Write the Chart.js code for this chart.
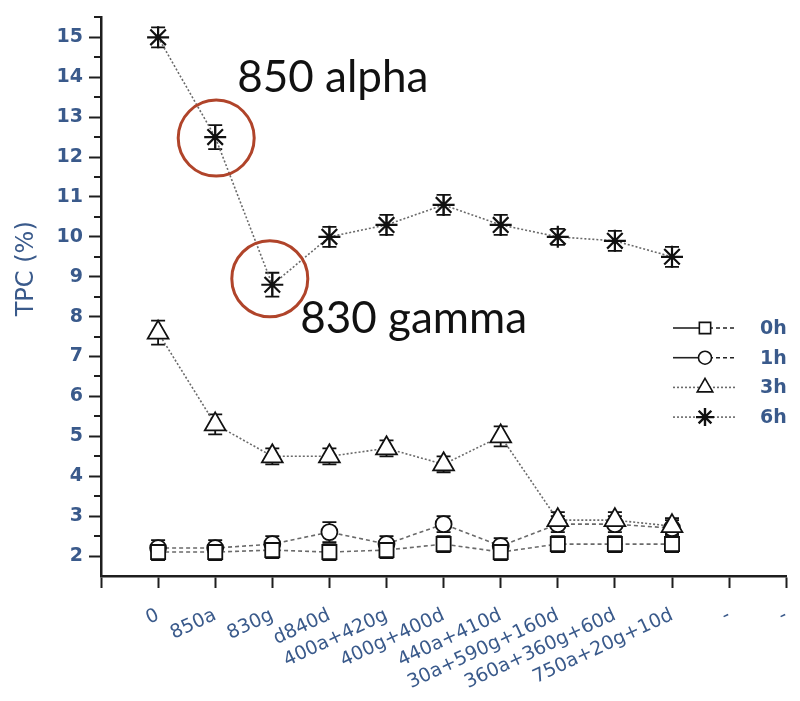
<!DOCTYPE html>
<html>
<head>
<meta charset="utf-8">
<script src="https://cdn.jsdelivr.net/npm/chart.js@4.4.1/dist/chart.umd.min.js"></script>
<style>
  html, body { margin: 0; padding: 0; background: #ffffff; }
  #wrap { width: 800px; height: 701px; position: relative; }
</style>
</head>
<body>
<div id="wrap"><canvas id="tpc" width="800" height="701"></canvas></div>
<script>
// Treatments on the x axis (index 0..11); the axis itself starts one step before "0".
const categories = ['0', '850a', '830g', 'd840d', '400a+420g', '400g+400d', '440a+410d',
                    '30a+590g+160d', '360a+360g+60d', '750a+20g+10d', '-', '-'];
const seriesNames = ['0h', '1h', '3h', '6h'];
const yTickValues = [2, 3, 4, 5, 6, 7, 8, 9, 10, 11, 12, 13, 14, 15];

// Total phenolic content (%) per treatment, one array per sampling time
const tpc0h = [2.1, 2.1, 2.15, 2.1, 2.15, 2.3, 2.1, 2.3, 2.3, 2.3];
const tpc1h = [2.2, 2.2, 2.3, 2.6, 2.3, 2.8, 2.25, 2.8, 2.8, 2.7];
const tpc3h = [7.6, 5.3, 4.5, 4.5, 4.7, 4.3, 5.0, 2.9, 2.9, 2.75];
const tpc6h = [15.0, 12.5, 8.8, 10.0, 10.3, 10.8, 10.3, 10.0, 9.9, 9.5];

// Standard deviations (error bars)
const err0h = [0.2, 0.2, 0.2, 0.2, 0.2, 0.2, 0.2, 0.2, 0.2, 0.2];
const err1h = [0.2, 0.2, 0.2, 0.25, 0.2, 0.2, 0.2, 0.2, 0.2, 0.2];
const err3h = [0.3, 0.25, 0.2, 0.2, 0.2, 0.2, 0.25, 0.2, 0.2, 0.2];
const err6h = [0.25, 0.3, 0.3, 0.25, 0.25, 0.25, 0.25, 0.2, 0.25, 0.25];

// Highlighted points on the 6h curve
const notes = [
  { text: '850 alpha', index: 1 },
  { text: '830 gamma', index: 2 }
];

const INK = '#3a5a8b';
const AXIS = '#1e1e1e';
const LINE = '#6a6a6a';

const seriesValues = [tpc0h, tpc1h, tpc3h, tpc6h];
const seriesErrors = [err0h, err1h, err3h, err6h];

const markerStyles = [
  { pointStyle: 'rect',     radius: 10, legendRadius: 8,   dash: [4, 3], order: 1, solidLead: true },
  { pointStyle: 'circle',   radius: 8,  legendRadius: 6.5, dash: [4, 3], order: 3, solidLead: true },
  { pointStyle: 'triangle', radius: 12, legendRadius: 9,   dash: [2, 2], order: 2, solidLead: false },
  { pointStyle: 'star',     radius: 11, legendRadius: 9,   dash: [2, 2], order: 4, solidLead: false }
];

const toPoints = values => values.map((v, i) => ({ x: i, y: v }));

const datasets = seriesNames.map((name, i) => ({
  label: name,
  data: toPoints(seriesValues[i]),
  order: markerStyles[i].order,
  borderColor: LINE,
  borderWidth: 1.6,
  borderDash: markerStyles[i].dash,
  fill: false,
  tension: 0,
  pointStyle: markerStyles[i].pointStyle,
  pointRadius: markerStyles[i].radius,
  pointHoverRadius: markerStyles[i].radius,
  pointBorderColor: '#111',
  pointBackgroundColor: '#ffffff',
  pointBorderWidth: i === 3 ? 2.2 : 1.8
}));

// Error bars with caps, drawn under the markers
const errorBars = {
  id: 'errorBars',
  beforeDatasetsDraw(chart) {
    const { ctx, scales: { x, y } } = chart;
    ctx.save();
    ctx.strokeStyle = '#111';
    ctx.lineWidth = 1.8;
    seriesValues.forEach((vals, s) => {
      vals.forEach((v, j) => {
        const e = seriesErrors[s][j];
        const px = x.getPixelForValue(j);
        const top = y.getPixelForValue(v + e);
        const bot = y.getPixelForValue(v - e);
        const cap = 7;
        ctx.beginPath();
        ctx.moveTo(px, top); ctx.lineTo(px, bot);
        ctx.moveTo(px - cap, top); ctx.lineTo(px + cap, top);
        ctx.moveTo(px - cap, bot); ctx.lineTo(px + cap, bot);
        ctx.stroke();
      });
    });
    ctx.restore();
  }
};

// Half-unit minor ticks on the value axis and the axis title
const axisExtras = {
  id: 'axisExtras',
  afterDraw(chart) {
    const { ctx, chartArea, scales: { y } } = chart;
    ctx.save();
    ctx.strokeStyle = AXIS;
    ctx.lineWidth = 2;
    for (let v = 2.5; v <= 15.5; v += 1) {
      const py = Math.round(y.getPixelForValue(v));
      ctx.beginPath();
      ctx.moveTo(chartArea.left - 7, py);
      ctx.lineTo(chartArea.left, py);
      ctx.stroke();
    }
    ctx.translate(27, chartArea.top + (chartArea.bottom - chartArea.top) * 0.45);
    ctx.rotate(-Math.PI / 2);
    ctx.fillStyle = INK;
    ctx.font = '24px "DejaVu Sans"';
    ctx.textAlign = 'center';
    ctx.textBaseline = 'middle';
    ctx.fillText('TPC (%)', 0, 0);
    ctx.restore();
  }
};

function drawMarker(ctx, style, radius, cx, cy, borderWidth) {
  const h = Chart.helpers;
  ctx.fillStyle = '#ffffff';
  ctx.strokeStyle = '#111';
  ctx.lineWidth = borderWidth;
  if (h && h.drawPoint) {
    h.drawPoint(ctx, { pointStyle: style, radius: radius, rotation: 0, borderWidth: borderWidth }, cx, cy);
  }
}

// Legend: line segment with marker, then the series name
const lineLegend = {
  id: 'lineLegend',
  afterDraw(chart) {
    const { ctx } = chart;
    const x0 = 673, x1 = 737, xm = 705, xt = 760, y0 = 328, step = 29.7;
    ctx.save();
    seriesNames.forEach((name, i) => {
      const yy = y0 + i * step;
      const st = markerStyles[i];
      ctx.lineWidth = 1.6;
      if (st.solidLead) {
        ctx.strokeStyle = '#222';
        ctx.setLineDash([]);
        ctx.beginPath();
        ctx.moveTo(x0, yy); ctx.lineTo(xm - 4, yy);
        ctx.stroke();
        ctx.setLineDash(st.dash);
        ctx.beginPath();
        ctx.moveTo(xm + 4, yy); ctx.lineTo(x1, yy);
        ctx.stroke();
      } else {
        ctx.strokeStyle = LINE;
        ctx.setLineDash(st.dash);
        ctx.beginPath();
        ctx.moveTo(x0, yy); ctx.lineTo(x1, yy);
        ctx.stroke();
      }
      ctx.setLineDash([]);
      drawMarker(ctx, st.pointStyle, st.legendRadius, xm, yy, i === 3 ? 2.4 : 1.6);
      ctx.fillStyle = INK;
      ctx.font = 'bold 19px "DejaVu Sans"';
      ctx.textAlign = 'left';
      ctx.textBaseline = 'middle';
      ctx.fillText(name, xt, yy + 1);
    });
    ctx.restore();
  }
};

// Red rings and captions on the 850a and 830g points of the 6h curve
const highlights = {
  id: 'highlights',
  afterDatasetsDraw(chart) {
    const { ctx } = chart;
    const meta = chart.getDatasetMeta(3);
    const a = meta.data[notes[0].index];
    const b = meta.data[notes[1].index];
    ctx.save();
    ctx.strokeStyle = '#b0442a';
    ctx.lineWidth = 3;
    ctx.beginPath();
    ctx.arc(a.x + 1, a.y + 1, 38, 0, Math.PI * 2);
    ctx.stroke();
    ctx.beginPath();
    ctx.arc(b.x - 2.5, b.y - 6, 38, 0, Math.PI * 2);
    ctx.stroke();
    ctx.fillStyle = '#111';
    ctx.font = '44px Lato';
    ctx.textAlign = 'left';
    ctx.textBaseline = 'alphabetic';
    ctx.fillText(notes[0].text, a.x + 22, a.y - 45);
    ctx.fillText(notes[1].text, b.x + 28, b.y + 48);
    ctx.restore();
  }
};

new Chart(document.getElementById('tpc'), {
  type: 'line',
  data: { datasets },
  plugins: [errorBars, axisExtras, lineLegend, highlights],
  options: {
    responsive: false,
    animation: false,
    devicePixelRatio: 1,
    layout: { padding: { top: 10, left: 0, right: 0, bottom: 0 } },
    plugins: { legend: { display: false }, tooltip: { enabled: false } },
    scales: {
      x: {
        type: 'linear',
        min: -1,
        max: 11,
        afterFit(scale) { scale.height = 125; scale.paddingLeft = 0; scale.paddingRight = 0; },
        ticks: {
          stepSize: 1,
          autoSkip: false,
          minRotation: 25,
          maxRotation: 25,
          padding: 16,
          color: INK,
          font: { family: 'DejaVu Sans', size: 19 },
          callback: v => (categories[v] !== undefined ? categories[v] : '')
        },
        grid: { drawOnChartArea: false, drawTicks: true, tickLength: 12, tickWidth: 2, tickColor: AXIS },
        border: { display: true, color: AXIS, width: 2.5 }
      },
      y: {
        min: 1.5,
        max: 15.5,
        afterFit(scale) { scale.width = 101; },
        afterBuildTicks(scale) { scale.ticks = yTickValues.map(v => ({ value: v })); },
        ticks: {
          padding: 6,
          color: INK,
          font: { family: 'DejaVu Sans', size: 19, weight: 'bold' }
        },
        grid: { drawOnChartArea: false, drawTicks: true, tickLength: 12, tickWidth: 2, tickColor: AXIS },
        border: { display: true, color: AXIS, width: 2.5 }
      }
    }
  }
});
</script>
</body>
</html>
